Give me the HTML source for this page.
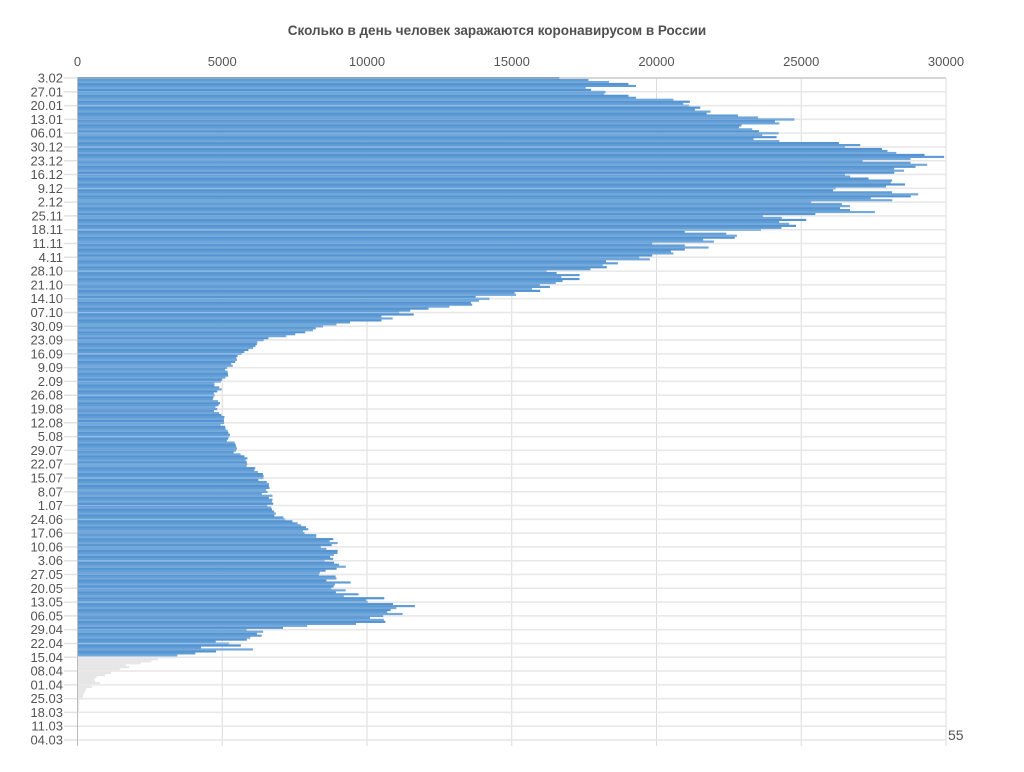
<!DOCTYPE html>
<html><head><meta charset="utf-8">
<style>
html,body{margin:0;padding:0;background:#fff;}
body{width:1024px;height:767px;overflow:hidden;font-family:"Liberation Sans",sans-serif;}
svg text{font-family:"Liberation Sans","DejaVu Sans",sans-serif;}
</style></head>
<body>
<svg id="chart" width="1024" height="767" viewBox="0 0 1024 767" xmlns="http://www.w3.org/2000/svg">
<text x="497" y="35" text-anchor="middle" font-size="13.5" font-weight="bold" fill="#505050">Сколько в день человек заражаются коронавирусом в России</text>
<g id="grid"></g><g id="bars"></g><g id="over"></g><g id="axes"></g>
<text x="948" y="740" font-size="14" fill="#555">55</text>
</svg>
<script>
const mar=[1,0,3,0,3,0,3,8,6,11,14,4,30,21,33,52,54,53,57,71,57,163,182,196,228,270,302,501];
const apr=[440,771,601,582,658,954,1154,1175,1459,1786,1667,2186,2558,2774,3388,3448,4070,4785,6060,4268,5642,5236,4774,5849,5966,6361,6198,6411,5841,7099];
const may=[7933,9623,10633,10581,10102,10559,11231,10699,10817,11012,11656,10899,10028,9974,10598,9200,9709,8926,9263,8764,8849,8894,9434,8599,8946,8915,8338,8371,8572,8952,9268];
const jun=[9035,8863,8536,8831,8726,8855,8984,8985,8595,8404,8779,8987,8706,8835,8246,8248,7843,7790,7972,7889,7728,7600,7425,7176,7113,6800,6852,6791,6719,6693];
const jul=[6556,6760,6718,6736,6611,6736,6368,6562,6509,6635,6611,6615,6537,6248,6422,6428,6406,6234,6109,6139,5842,5862,5848,5811,5871,5765,5635,5395,5475,5509,5482];
const aug=[5462,5427,5159,5204,5241,5267,5212,5189,5118,5102,4945,5065,5057,5061,5076,4969,4892,4718,4828,4767,4870,4921,4852,4676,4696,4744,4711,4829,4980,4897,4729];
const sep=[4729,4952,4995,5110,5205,5195,5185,5099,5172,5363,5310,5449,5509,5488,5529,5670,5762,5905,6065,6148,6196,6215,6431,6595,7212,7523,7867,8135,8232,8481];
const oct=[8945,9412,10499,10888,10499,11615,11115,11493,12126,12846,13634,13592,13868,14231,13754,15150,15099,15982,15700,16319,15971,16521,16757,17340,16710,17347,16550,16202,17717,18283,18140];
const nov=[18665,18257,19768,19404,19851,20582,20498,20977,21798,20977,19851,21983,21608,22702,22778,22410,20977,23610,24318,24822,24581,24236,25173,24326,23675,25487,27543,26683,26338,26683];
const dec=[26402,25345,28145,27403,28782,29039,28137,26097,26190,27927,28585,28093,28137,27328,26689,26509,28214,28552,28209,28948,29350,28776,27120,28776,29935,29258,28284,27977,27787,26513,27039];
const jan=[26301,24246,23351,24150,23652,24217,23541,23309,22851,22934,24246,24092,24763,23510,22816,21734,21870,21329,21513,21127,20921,21152,20586,19290,19032,18200,18241,17741,17554,19290,19032];
const feb=[18359,17648,16643];
const tickValues=[0,5000,10000,15000,20000,25000,30000];
const dateLabels=["04.03","11.03","18.03","25.03","01.04","08.04","15.04","22.04","29.04","06.05","13.05","20.05","27.05","3.06","10.06","17.06","24.06","1.07","8.07","15.07","22.07","29.07","5.08","12.08","19.08","26.08","2.09","9.09","16.09","23.09","30.09","07.10","14.10","21.10","28.10","4.11","11.11","18.11","25.11","2.12","9.12","16.12","23.12","30.12","06.01","13.01","20.01","27.01","3.02"];
const greyBefore=43;

const values=[].concat(mar,apr,may,jun,jul,aug,sep,oct,nov,dec,jan,feb);
const NS="http://www.w3.org/2000/svg";
const X0=77.5,X1=946,TOP=78,BOTTOM=740;
const n=values.length;
const step=(BOTTOM-TOP)/(n-1);
function xs(v){return X0+v/30000*(X1-X0);}
function ys(i){return BOTTOM-i*step;}
function mk(t,a,p){const e=document.createElementNS(NS,t);for(const k in a)e.setAttribute(k,a[k]);p.appendChild(e);return e;}
const grid=document.getElementById('grid'),bars=document.getElementById('bars'),over=document.getElementById('over'),axes=document.getElementById('axes');
tickValues.forEach(function(v){
  const l=mk('line',{x1:xs(v),x2:xs(v),y1:TOP,y2:746,stroke:'#dcdcdc','stroke-width':1},grid);
  
  
  const t=mk('text',{x:xs(v),y:66,'text-anchor':'middle','font-size':13,fill:'#555'},axes);
  t.textContent=v;
  
  
});
dateLabels.forEach(function(d,k){
  const y=ys(k*7);
  const l=mk('line',{x1:64,x2:X1,y1:y,y2:y,stroke:'#e2e2e2','stroke-width':1.5},grid);
  
  
  const o=mk('line',{x1:X0,x2:X1,y1:y,y2:y,stroke:'#ffffff','stroke-opacity':0.25,'stroke-width':1},over);
  
  
  const t=mk('text',{x:63,y:y+4.5,'text-anchor':'end','font-size':13,fill:'#555'},axes);
  t.textContent=d;
  
  
});
values.forEach(function(v,i){
  const y=ys(i);
  const col=i<greyBefore?'#e6e6e6':(i%3===0?'#5593d1':(i%3===1?'#72a8db':'#609dd5'));
  const r=mk('rect',{x:X0,y:y-1,width:Math.max(0,xs(v)-X0),height:step+0.2,fill:col},bars);
  
  
});
const ax=mk('line',{x1:X0,x2:X0,y1:TOP,y2:746,stroke:'#bbb','stroke-width':1},axes);


const tx=mk('line',{x1:X0,x2:X1,y1:TOP,y2:TOP,stroke:'#bbb','stroke-width':1},axes);


</script>
</body></html>
